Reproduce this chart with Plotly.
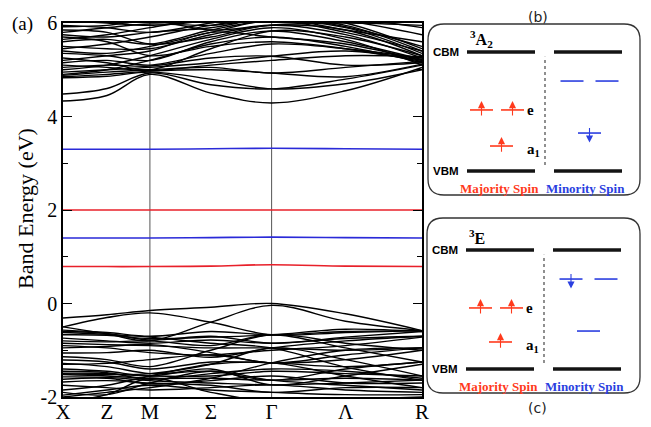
import plotly.graph_objects as go

# ---------------- data ----------------
k_labels = ["X", "Z", "M", "Σ", "Γ", "Λ", "R"]
k_pos = [0.0, 0.506, 1.0, 1.70, 2.40, 3.25, 4.13]
k_lines = [1.0, 2.40]  # vertical lines at M and Γ
e_ticks = [-2, 0, 2, 4, 6]
e_ticktext = ["-2", "0", "2", "4", "6"]
e_minor = [-1, 1, 3, 5]

# band energies (eV) at X, Z, M, Σ, Γ, Λ, R
conduction_bands = [
    [4.33, 4.45, 4.90, 4.50, 4.29, 4.55, 5.05],
    [4.48, 4.60, 4.93, 4.68, 4.59, 4.80, 5.10],
    [4.83, 4.86, 4.95, 4.80, 4.59, 4.70, 5.00],
    [4.85, 4.90, 4.97, 5.00, 4.93, 4.85, 5.12],
    [4.88, 4.95, 5.00, 5.05, 4.93, 5.05, 5.18],
    [4.95, 5.00, 5.05, 5.15, 5.29, 5.40, 5.20],
    [5.05, 5.10, 5.08, 5.25, 5.29, 5.10, 5.15],
    [5.15, 5.20, 5.10, 5.35, 5.55, 5.45, 5.25],
    [5.25, 5.15, 5.00, 5.45, 5.83, 5.70, 5.30],
    [5.35, 5.30, 5.20, 5.60, 5.83, 5.60, 5.22],
    [5.50, 5.45, 5.45, 5.75, 5.95, 5.85, 5.30],
    [5.60, 5.65, 5.55, 5.85, 6.05, 5.90, 5.35],
    [5.75, 5.70, 5.80, 5.90, 6.10, 5.95, 5.40],
    [5.85, 5.80, 5.55, 5.70, 5.95, 5.75, 5.25],
    [5.95, 5.90, 5.80, 6.00, 6.20, 6.00, 5.45],
    [6.05, 6.00, 5.95, 6.05, 6.15, 5.92, 5.50],
    [4.90, 5.00, 5.20, 5.55, 5.70, 5.50, 5.15],
    [5.00, 5.10, 5.30, 5.65, 5.90, 5.65, 5.10],
    [5.20, 5.30, 5.40, 5.80, 5.70, 5.55, 5.20],
    [5.45, 5.55, 5.70, 5.95, 6.10, 5.85, 5.60],
    [5.65, 5.75, 5.90, 6.10, 6.20, 6.05, 5.75],
    [5.80, 5.90, 5.98, 5.95, 6.10, 6.10, 5.90],
    [5.92, 5.95, 6.05, 5.85, 5.96, 6.00, 5.95],
    [5.10, 5.05, 4.98, 5.10, 5.20, 5.30, 5.28],
    [5.40, 5.35, 5.50, 5.80, 6.05, 5.80, 5.40],
    [5.70, 5.60, 5.30, 5.50, 5.60, 5.45, 5.18],
]

valence_bands = [
    [-0.31, -0.24, -0.15, -0.08, 0.00, -0.22, -0.58],
    [-0.50, -0.30, -0.20, -0.40, -0.67, -0.62, -0.58],
    [-0.50, -0.65, -0.80, -0.40, -0.04, -0.38, -0.58],
    [-0.57, -0.62, -0.70, -0.60, -0.67, -0.60, -0.58],
    [-0.67, -0.68, -0.75, -0.72, -0.67, -0.55, -0.60],
    [-0.74, -0.80, -0.85, -0.78, -0.85, -0.75, -0.70],
    [-0.85, -0.88, -0.90, -0.95, -0.95, -1.00, -0.95],
    [-0.95, -0.92, -0.88, -1.05, -1.27, -1.10, -0.95],
    [-1.06, -1.05, -1.00, -1.15, -0.95, -0.80, -0.70],
    [-1.14, -1.20, -1.35, -1.00, -0.67, -0.85, -1.00],
    [-1.21, -1.25, -1.40, -1.25, -1.27, -1.35, -1.25],
    [-1.28, -1.35, -1.50, -1.45, -1.64, -1.40, -1.25],
    [-1.49, -1.50, -1.55, -1.55, -1.45, -1.50, -1.55],
    [-1.52, -1.55, -1.60, -1.60, -1.64, -1.60, -1.64],
    [-1.57, -1.58, -1.65, -1.70, -1.74, -1.70, -1.64],
    [-1.68, -1.65, -1.70, -1.75, -1.90, -1.80, -1.80],
    [-1.85, -1.75, -1.55, -1.30, -1.27, -1.55, -1.80],
    [-1.96, -1.85, -1.75, -1.85, -1.90, -1.95, -1.95],
    [-2.10, -1.95, -1.60, -1.90, -2.10, -2.05, -2.00],
    [-1.50, -1.52, -1.50, -1.30, -0.95, -1.20, -1.55],
    [-2.00, -1.90, -1.80, -1.60, -1.27, -1.00, -0.95],
    [-0.62, -0.66, -0.72, -0.85, -0.95, -1.36, -1.64],
    [-0.80, -0.82, -0.80, -0.90, -0.67, -0.95, -1.25],
    [-1.40, -1.45, -1.55, -1.40, -1.74, -1.55, -1.30],
    [-0.60, -0.64, -0.78, -0.70, -0.85, -0.72, -0.60],
    [-0.90, -0.95, -1.05, -1.10, -1.00, -0.90, -0.72],
    [-1.30, -1.28, -1.20, -1.10, -1.27, -1.20, -1.00],
    [-1.45, -1.48, -1.62, -1.50, -1.40, -1.45, -1.60],
    [-1.62, -1.60, -1.72, -1.65, -1.55, -1.70, -1.70],
    [-1.75, -1.80, -1.85, -1.80, -1.74, -1.85, -1.90],
    [-1.90, -1.95, -1.70, -1.45, -1.64, -1.75, -1.85],
]

defect_majority = [
    [2.00, 2.00, 2.00, 2.00, 2.00, 2.00, 2.00],
    [0.79, 0.79, 0.79, 0.80, 0.83, 0.80, 0.79],
]
defect_minority = [
    [3.30, 3.30, 3.30, 3.31, 3.32, 3.31, 3.30],
    [1.40, 1.40, 1.40, 1.41, 1.42, 1.41, 1.40],
]

# schematic level diagrams: energies relative to VBM (0) .. CBM (1)
level_names = ["e", "e", "a1"]
b_majority_E = [0.513, 0.513, 0.210]
b_minority_E = [0.756, 0.756, 0.319]
b_majority_occ = [1, 1, 1]
b_minority_occ = [0, 0, 1]
c_majority_E = [0.513, 0.513, 0.227]
c_minority_E = [0.756, 0.756, 0.319]
c_majority_occ = [1, 1, 1]
c_minority_occ = [1, 0, 0]

# ---------------- figure ----------------
# the page body adds an 8 px margin, so the figure is sized/offset to compensate
OFF = 8
W, H = 651 - OFF, 427 - OFF
RED = "#e8202a"
BLUE = "#2a2ad8"
SRED = "#ff3a1c"
SBLUE = "#2b3fe0"
SERIF = "Liberation Serif"
SANS = "Liberation Sans"

fig = go.Figure()

for band in conduction_bands + valence_bands:
    fig.add_trace(go.Scatter(x=k_pos, y=band, mode="lines",
                             line=dict(color="black", width=1.4, shape="spline", smoothing=1.0),
                             hoverinfo="skip", showlegend=False))
for band in defect_majority:
    fig.add_trace(go.Scatter(x=k_pos, y=band, mode="lines",
                             line=dict(color=RED, width=1.6, shape="spline"),
                             hoverinfo="skip", showlegend=False))
for band in defect_minority:
    fig.add_trace(go.Scatter(x=k_pos, y=band, mode="lines",
                             line=dict(color=BLUE, width=1.6, shape="spline"),
                             hoverinfo="skip", showlegend=False))

for kx in k_lines:
    fig.add_shape(type="line", xref="x", yref="y domain", x0=kx, x1=kx, y0=0, y1=1,
                  line=dict(color="#555555", width=1), layer="below")


def px(x):
    return (x - OFF) / W


def py(y):
    return 1 - (y - OFF) / H


main_dom_x = [px(63), px(422)]
main_dom_y = [py(397), py(23)]

fig.update_layout(
    width=W, height=H, margin=dict(l=0, r=0, t=0, b=0, pad=0, autoexpand=False),
    paper_bgcolor="white", plot_bgcolor="white",
    showlegend=False,
    xaxis=dict(domain=main_dom_x, range=[k_pos[0], k_pos[-1]], tickvals=k_pos, ticktext=k_labels,
               automargin=False, ticklabelstandoff=-5,
               showgrid=False, zeroline=False, showline=True, linecolor="black", linewidth=1.5,
               mirror=True, ticks="", tickfont=dict(family=SERIF, size=21, color="black")),
    yaxis=dict(domain=main_dom_y, range=[-2, 6], tickvals=e_ticks, ticktext=e_ticktext,
               automargin=False,
               showgrid=False, zeroline=False, showline=True, linecolor="black", linewidth=1.5,
               mirror="ticks", ticks="inside", ticklen=9, tickwidth=1, tickcolor="black",
               minor=dict(tickvals=e_minor, ticks="inside", ticklen=5, tickwidth=1, tickcolor="black"),
               tickfont=dict(family=SERIF, size=20, color="black")),
)

fig.add_annotation(text="Band Energy (eV)", x=px(25), y=py(209), xref="paper", yref="paper",
                   xanchor="center", yanchor="middle",
                   textangle=-90, showarrow=False, font=dict(family=SERIF, size=22, color="black"))
fig.add_annotation(text="(a)", x=px(22), y=py(24), xref="paper", yref="paper",
                   xanchor="center", yanchor="middle",
                   showarrow=False, font=dict(family=SERIF, size=19, color="black"))

# ---------------- schematic panels ----------------
# slot x-centres in box-pixel units
maj_x = [53.5, 84.5, 73.5]
min_x = [144.0, 179.0, 161.5]
half = 11.5


def rounded_box(l, t, r, b, rad):
    def P(x, y):
        return f"{px(x):.5f},{py(y):.5f}"
    return (f"M {P(l + rad, t)} L {P(r - rad, t)} Q {P(r, t)} {P(r, t + rad)} "
            f"L {P(r, b - rad)} Q {P(r, b)} {P(r - rad, b)} L {P(l + rad, b)} "
            f"Q {P(l, b)} {P(l, b - rad)} L {P(l, t + rad)} Q {P(l, t)} {P(l + rad, t)} Z")


def add_panel(idx, box, state_label, maj_E, min_E, maj_occ, min_occ, tag, tag_y):
    l, t, r, b = box
    vbm_px = b - 24
    scale = 119.0
    xa = f"xaxis{idx}"
    ya = f"yaxis{idx}"
    xr = f"x{idx}"
    yr = f"y{idx}"
    fig.update_layout(**{
        xa: dict(domain=[px(l), px(r)], range=[0, r - l], visible=False, fixedrange=True, automargin=False),
        ya: dict(domain=[py(b), py(t)], range=[(vbm_px - b) / scale, (vbm_px - t) / scale],
                 visible=False, fixedrange=True, automargin=False),
    })
    fig.add_shape(type="path", xref="paper", yref="paper", path=rounded_box(l, t, r, b, 16),
                  line=dict(color="#333333", width=1.3))
    # CBM / VBM bars
    for yv in (0.0, 1.0):
        for (x0, x1) in ((39, 107), (126, 194)):
            fig.add_trace(go.Scatter(x=[x0, x1], y=[yv, yv], xaxis=xr, yaxis=yr, mode="lines",
                                     line=dict(color="#141414", width=3.5), hoverinfo="skip"))
    # dashed separator
    fig.add_trace(go.Scatter(x=[117, 117], y=[0.05, 0.96], xaxis=xr, yaxis=yr, mode="lines",
                             line=dict(color="#555555", width=1.3, dash="dot"), hoverinfo="skip"))
    # majority levels
    for xc, E, occ in zip(maj_x, maj_E, maj_occ):
        fig.add_trace(go.Scatter(x=[xc - half, xc + half], y=[E, E], xaxis=xr, yaxis=yr, mode="lines",
                                 line=dict(color=SRED, width=1.6), hoverinfo="skip"))
        if occ:
            fig.add_annotation(x=xc, y=E + 0.075, ax=xc, ay=E - 0.06, xref=xr, yref=yr, axref=xr, ayref=yr,
                               text="", showarrow=True, arrowhead=2, arrowsize=1.3, arrowwidth=1.1,
                               arrowcolor=SRED)
    # minority levels
    for xc, E, occ in zip(min_x, min_E, min_occ):
        fig.add_trace(go.Scatter(x=[xc - half, xc + half], y=[E, E], xaxis=xr, yaxis=yr, mode="lines",
                                 line=dict(color=SBLUE, width=1.6), hoverinfo="skip"))
        if occ:
            fig.add_annotation(x=xc, y=E - 0.08, ax=xc, ay=E + 0.055, xref=xr, yref=yr, axref=xr, ayref=yr,
                               text="", showarrow=True, arrowhead=2, arrowsize=1.3, arrowwidth=1.1,
                               arrowcolor=SBLUE)
    # texts
    fig.add_annotation(x=33, y=1.0, xref=xr, yref=yr, text="<b>CBM</b>", showarrow=False,
                       xanchor="right", yanchor="middle",
                       font=dict(family=SANS, size=11.5, color="black"))
    fig.add_annotation(x=33, y=0.0, xref=xr, yref=yr, text="<b>VBM</b>", showarrow=False,
                       xanchor="right", yanchor="middle",
                       font=dict(family=SANS, size=11.5, color="black"))
    fig.add_annotation(x=40, y=1.11, xref=xr, yref=yr, text=state_label, showarrow=False,
                       xanchor="left", yanchor="middle",
                       font=dict(family=SERIF, size=16, color="black"))
    fig.add_annotation(x=97, y=maj_E[0], xref=xr, yref=yr, text="<b>e</b>", showarrow=False,
                       xanchor="left", yanchor="middle",
                       font=dict(family=SERIF, size=15, color="black"))
    fig.add_annotation(x=97, y=maj_E[2] - 0.03, xref=xr, yref=yr, text="<b>a<sub>1</sub></b>", showarrow=False,
                       xanchor="left", yanchor="middle", font=dict(family=SERIF, size=15, color="black"))
    fig.add_annotation(x=71, y=-0.145, xref=xr, yref=yr, text="<b>Majority Spin</b>", showarrow=False,
                       xanchor="center", yanchor="middle",
                       font=dict(family=SERIF, size=13, color=SRED))
    fig.add_annotation(x=157, y=-0.145, xref=xr, yref=yr, text="<b>Minority Spin</b>", showarrow=False,
                       xanchor="center", yanchor="middle",
                       font=dict(family=SERIF, size=13, color=SBLUE))
    fig.add_annotation(x=px((l + r) / 2 + 4), y=py(tag_y), xref="paper", yref="paper", text=tag,
                       xanchor="center", yanchor="middle", borderpad=0,
                       showarrow=False, font=dict(family="DejaVu Sans", size=14, color="#222222"))


add_panel(2, (428, 24, 640, 195), "<b><sup>3</sup>A<sub>2</sub></b>",
          b_majority_E, b_minority_E, b_majority_occ, b_minority_occ, "(b)", 16.5)
add_panel(3, (427, 218, 640, 393), "<b><sup>3</sup>E</b>",
          c_majority_E, c_minority_E, c_majority_occ, c_minority_occ, "(c)", 408)

fig.update_traces(showlegend=False)
fig.write_html("out.html")
